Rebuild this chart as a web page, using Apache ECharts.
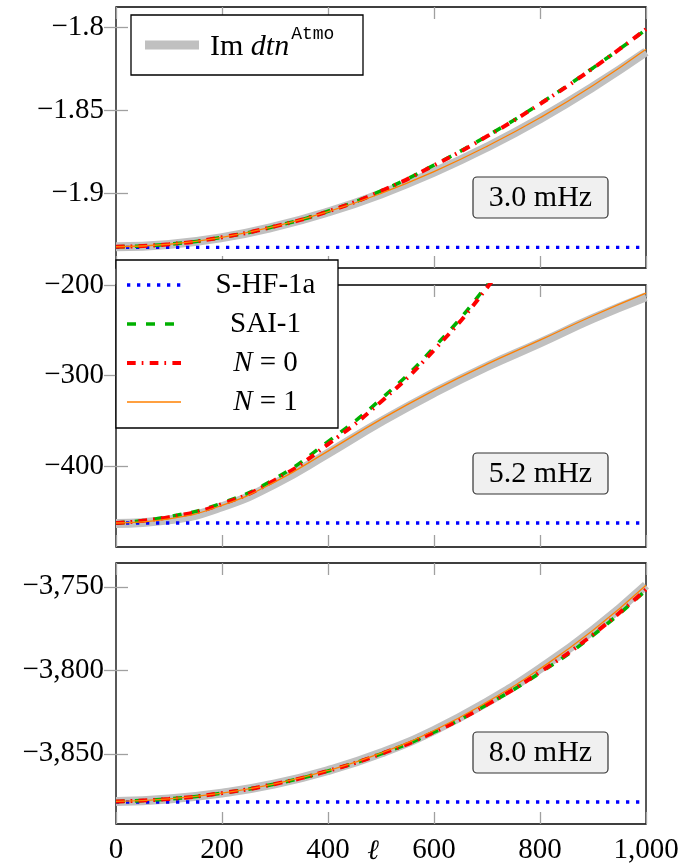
<!DOCTYPE html>
<html>
<head>
<meta charset="utf-8">
<script src="https://cdn.jsdelivr.net/npm/echarts@6/dist/echarts.min.js"></script>
<style>
  html, body { margin: 0; padding: 0; background: #fff; }
  #chart { width: 681px; height: 865px; }
</style>
</head>
<body>
<div id="chart"></div>
<script>
// harmonic degree ell (x values)
const ell = [0, 100, 200, 300, 400, 500, 600, 700, 800, 900, 1000];
const ellEnds = [0, 1000];
const ellShort = [0, 100, 200, 300, 400, 500, 600, 700, 800];
const xTicks = [0, 200, 400, 600, 800, 1000];

// 3.0 mHz panel
const ref30 = [-1.9322, -1.9308, -1.9267, -1.9201, -1.9113, -1.9004, -1.8873, -1.8722, -1.8551, -1.8359, -1.8148];
const n1_30 = [-1.9322, -1.9307, -1.9265, -1.9199, -1.9111, -1.9001, -1.8869, -1.8717, -1.8545, -1.8351, -1.8133];
const n0_30 = [-1.9322, -1.9307, -1.9265, -1.9199, -1.9109, -1.8987, -1.8832, -1.8657, -1.8462, -1.8247, -1.8012];
const sai30 = [-1.9322, -1.9307, -1.9265, -1.9199, -1.9108, -1.8986, -1.8830, -1.8655, -1.8460, -1.8245, -1.8014];
const shf30 = [-1.9326, -1.9326];
const yTicks30 = [-1.9, -1.85, -1.8];

// 5.2 mHz panel
const ref52 = [-463.5, -459.5, -445, -419.5, -386, -351, -319, -290, -264, -237, -213];
const n1_52 = [-463, -458.5, -443.5, -417.5, -383.5, -348.5, -316.5, -287.5, -261, -234, -209];
const n0_52 = [-463, -456.5, -442, -415.5, -376, -329, -272, -203, -120];
const sai52 = [-463, -456, -441, -414, -373, -326, -269, -200, -118];
const shf52 = [-463, -463];
const yTicks52 = [-400, -300, -200];

// 8.0 mHz panel
const ref80 = [-3878.5, -3877, -3873.5, -3868, -3860, -3849.5, -3836, -3819, -3799, -3776, -3749];
const n1_80 = [-3878.5, -3877, -3873.5, -3868, -3860, -3849.5, -3836, -3819, -3799, -3776, -3749];
const n0_80 = [-3878.5, -3877, -3873.5, -3868, -3860.2, -3850, -3837, -3820.5, -3801, -3778.5, -3751.5];
const sai80 = [-3878.5, -3877, -3873.5, -3868, -3860.2, -3850, -3837, -3820.5, -3801.5, -3779, -3752];
const shf80 = [-3878.8, -3878.8];
const yTicks80 = [-3850, -3800, -3750];

const panelLabels = ['3.0 mHz', '5.2 mHz', '8.0 mHz'];

const SERIF = "'Liberation Serif', 'DejaVu Serif', serif";
const GRAY = '#c0c0c0', BLUE = '#0000ff', GREEN = '#00b000', RED = '#ff0000', ORANGE = '#ff8000';

function pairs(xs, ys) { return xs.map((x, i) => [x, ys[i]]); }
function fmt(v) { return (v < 0 ? '\u2212' : '') + Math.abs(v).toLocaleString('en-US'); }

const panels = [
  { top: 7, height: 261, min: -1.945, max: -1.7878, ticks: yTicks30,
    ref: ref30, n1: n1_30, n0: n0_30, sai: sai30, shf: shf30, saiX: ell },
  { top: 285, height: 262, min: -489.5, max: -200, ticks: yTicks52,
    ref: ref52, n1: n1_52, n0: n0_52, sai: sai52, shf: shf52, saiX: ellShort },
  { top: 563, height: 261, min: -3892, max: -3735.7, ticks: yTicks80,
    ref: ref80, n1: n1_80, n0: n0_80, sai: sai80, shf: shf80, saiX: ell }
];

const tickStyle = { inside: true, length: 12, lineStyle: { color: '#a0a0a0', width: 1.3 } };

const grid = [], xAxis = [], yAxis = [], series = [];
panels.forEach((p, i) => {
  grid.push({ left: 116, width: 530, top: p.top, height: p.height, show: true,
    outerBoundsMode: 'none', containLabel: false,
    borderColor: '#000', borderWidth: 1.3, backgroundColor: 'transparent' });
  ['bottom', 'top'].forEach(pos => {
    xAxis.push({
      gridIndex: i, type: 'value', position: pos, min: 0, max: 1000, interval: 200,
      axisLine: { show: false }, splitLine: { show: false },
      axisTick: Object.assign({ customValues: xTicks }, tickStyle),
      axisLabel: {
        show: i === 2 && pos === 'bottom', customValues: xTicks, margin: 12,
        fontFamily: SERIF, fontSize: 29, color: '#000', formatter: fmt
      }
    });
  });
  ['left', 'right'].forEach(pos => {
    yAxis.push({
      gridIndex: i, type: 'value', position: pos, min: p.min, max: p.max,
      axisLine: { show: false }, splitLine: { show: false },
      axisTick: Object.assign({ customValues: p.ticks }, tickStyle),
      axisLabel: {
        show: pos === 'left', customValues: p.ticks, margin: 12,
        fontFamily: SERIF, fontSize: 29, color: '#000', formatter: fmt
      }
    });
  });
  const xi = i * 2, yi = i * 2;
  const base = { type: 'line', xAxisIndex: xi, yAxisIndex: yi, symbol: 'none', smooth: 0.5,
    clip: true, silent: true, animation: false };
  series.push(Object.assign({}, base, { name: 'Im dtn Atmo', data: pairs(ell, p.ref), z: 2,
    lineStyle: { color: GRAY, width: 9 } }));
  series.push(Object.assign({}, base, { name: 'S-HF-1a', data: pairs(ellEnds, p.shf), z: 3, smooth: false,
    lineStyle: { color: BLUE, width: 3.4, type: [3.3, 6.7], cap: 'butt' } }));
  series.push(Object.assign({}, base, { name: 'SAI-1', data: pairs(p.saiX, p.sai), z: 4,
    lineStyle: { color: GREEN, width: 3.6, type: [9, 10], cap: 'butt' } }));
  series.push(Object.assign({}, base, { name: 'N = 0', data: pairs(p.saiX, p.n0), z: 5,
    lineStyle: { color: RED, width: 4, type: [8.7, 6, 1.7, 6.3], cap: 'butt' } }));
  series.push(Object.assign({}, base, { name: 'N = 1', data: pairs(ell, p.n1), z: 6,
    lineStyle: { color: ORANGE, width: 1.3 } }));
});

// legend boxes, axis title and panel labels
const graphic = [];
graphic.push({ type: 'text', z: 101, x: 373, y: 852,
  style: { text: 'ℓ', align: 'center', textAlign: 'center', verticalAlign: 'middle', textVerticalAlign: 'middle',
    fontFamily: SERIF, fontStyle: 'italic', fontSize: 28, fill: '#000' } });

graphic.push({ type: 'rect', z: 100, shape: { x: 131, y: 15, width: 232, height: 60 },
  style: { fill: '#fff', stroke: '#000', lineWidth: 1.3 } });
graphic.push({ type: 'line', z: 101, shape: { x1: 145, y1: 45, x2: 199, y2: 45 },
  style: { stroke: GRAY, lineWidth: 9 } });
graphic.push({ type: 'text', z: 101, x: 210, y: 44,
  style: {
    text: '{a|Im }{b|dtn}{c|Atmo}', verticalAlign: 'middle', textVerticalAlign: 'middle',
    rich: {
      a: { fontFamily: SERIF, fontSize: 30, fill: '#000', verticalAlign: 'bottom' },
      b: { fontFamily: SERIF, fontSize: 30, fontStyle: 'italic', fill: '#000', verticalAlign: 'bottom' },
      c: { fontFamily: "'Liberation Mono', 'DejaVu Sans Mono', monospace", fontSize: 18, fill: '#000',
        verticalAlign: 'bottom', padding: [0, 0, 19, 2] }
    }
  } });

graphic.push({ type: 'rect', z: 100, shape: { x: 116, y: 260, width: 222, height: 168 },
  style: { fill: '#fff', stroke: '#000', lineWidth: 1.3 } });
const legItems = [
  { y: 285, text: 'S-HF-1a', line: { stroke: BLUE, lineWidth: 3.4, lineDash: [3.3, 6.7] } },
  { y: 324, text: 'SAI-1', line: { stroke: GREEN, lineWidth: 3.6, lineDash: [9, 10] } },
  { y: 363, text: '{i|N}{r| = 0}', line: { stroke: RED, lineWidth: 4, lineDash: [8.7, 6, 1.7, 6.3] } },
  { y: 402, text: '{i|N}{r| = 1}', line: { stroke: ORANGE, lineWidth: 1.3 } }
];
legItems.forEach(it => {
  graphic.push({ type: 'line', z: 101, shape: { x1: 127, y1: it.y, x2: 181, y2: it.y },
    style: Object.assign({ lineCap: 'butt' }, it.line) });
  graphic.push({ type: 'text', z: 101, x: 265.5, y: it.y,
    style: {
      text: it.text, align: 'center', textAlign: 'center', verticalAlign: 'middle', textVerticalAlign: 'middle',
      fontFamily: SERIF, fontSize: 29, fill: '#000',
      rich: {
        i: { fontFamily: SERIF, fontSize: 29, fontStyle: 'italic', fill: '#000' },
        r: { fontFamily: SERIF, fontSize: 29, fill: '#000' }
      }
    } });
});

const boxTops = [177, 453, 732];
panelLabels.forEach((lab, i) => {
  graphic.push({ type: 'rect', z: 100, shape: { x: 473, y: boxTops[i], width: 135, height: 41, r: 4 },
    style: { fill: '#f0f0f0', stroke: '#333', lineWidth: 1.2 } });
  graphic.push({ type: 'text', z: 101, x: 540.5, y: boxTops[i] + 21,
    style: { text: lab, align: 'center', textAlign: 'center', verticalAlign: 'middle', textVerticalAlign: 'middle',
      fontFamily: SERIF, fontSize: 30, fill: '#000' } });
});

const chart = echarts.init(document.getElementById('chart'), null, { renderer: 'canvas' });
chart.setOption({
  animation: false,
  backgroundColor: '#fff',
  grid, xAxis, yAxis, series, graphic
});
</script>
</body>
</html>
